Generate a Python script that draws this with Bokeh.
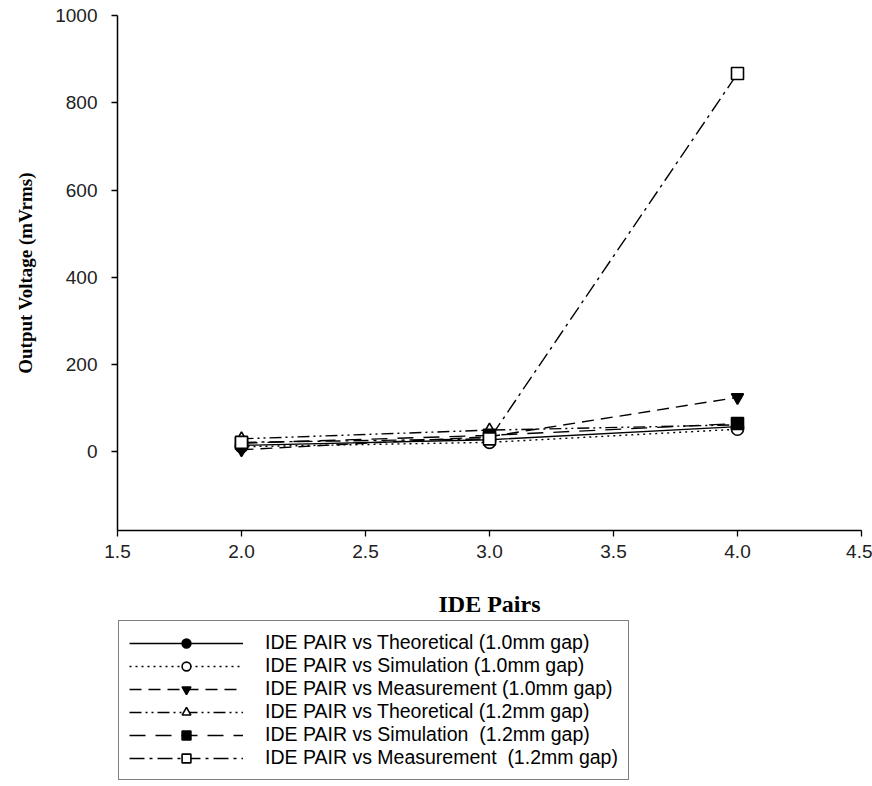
from bokeh.plotting import figure
from bokeh.layouts import column
from bokeh.models import Range1d, FixedTicker, Legend, LegendItem, NumeralTickFormatter
from bokeh.embed import file_html
from bokeh.resources import INLINE

ide_pairs = [2.0, 3.0, 4.0]
theo_10 = [15, 28, 58]
sim_10 = [12, 22, 52]
meas_10 = [5, 35, 125]
theo_12 = [30, 50, 62]
sim_12 = [20, 38, 65]
meas_12 = [22, 30, 867]

labels = [
    "IDE PAIR vs Theoretical (1.0mm gap)",
    "IDE PAIR vs Simulation (1.0mm gap)",
    "IDE PAIR vs Measurement (1.0mm gap)",
    "IDE PAIR vs Theoretical (1.2mm gap)",
    "IDE PAIR vs Simulation  (1.2mm gap)",
    "IDE PAIR vs Measurement  (1.2mm gap)",
]
x_ticks = [1.5, 2.0, 2.5, 3.0, 3.5, 4.0, 4.5]
y_ticks = [0, 200, 400, 600, 800, 1000]

series = [
    (theo_10, "solid", "circle", "black"),
    (sim_10, "2 4", "circle", "white"),
    (meas_10, "12 7", "inverted_triangle", "black"),
    (theo_12, "12 4 2 4 2 4", "triangle", "white"),
    (sim_12, "16 10", "square", "black"),
    (meas_12, "15 5 3 5", "square", "white"),
]

# main chart
p = figure(width=872, height=620, output_backend="svg", toolbar_location=None,
           x_range=Range1d(1.5, 4.5), y_range=Range1d(-180, 1000),
           min_border_left=117, min_border_right=11, min_border_top=15,
           min_border_bottom=90)
p.outline_line_color = None
p.xgrid.visible = False
p.ygrid.visible = False

for vals, dash, marker, fill in series:
    p.line(ide_pairs, vals, line_color="black", line_width=1.4, line_dash=dash)
    p.scatter(ide_pairs, vals, marker=marker, size=12, line_color="black",
              line_width=1.6, fill_color=fill)

for ax in (p.xaxis[0], p.yaxis[0]):
    ax.axis_line_color = "black"
    ax.axis_line_width = 1.5
    ax.major_tick_line_color = "black"
    ax.major_tick_line_width = 1.3
    ax.major_tick_in = 0
    ax.major_tick_out = 6
    ax.minor_tick_line_color = None
    ax.major_label_text_font = "Liberation Sans"
    ax.major_label_text_font_size = "19px"
    ax.major_label_text_color = "#222222"
    ax.axis_label_text_font = "Liberation Serif"
    ax.axis_label_text_font_style = "bold"
    ax.axis_label_text_color = "black"

p.xaxis.ticker = FixedTicker(ticks=x_ticks)
p.xaxis.formatter = NumeralTickFormatter(format="0.0")
p.xaxis.axis_label = "IDE Pairs"
p.xaxis.axis_label_text_font_size = "24px"
p.xaxis.major_label_standoff = 8
p.xaxis.axis_label_standoff = 30

p.yaxis.ticker = FixedTicker(ticks=y_ticks)
p.yaxis.axis_label = "Output Voltage (mVrms)"
p.yaxis.axis_label_text_font_size = "19px"
p.yaxis.major_label_standoff = 14
p.yaxis.axis_label_standoff = 16

# legend panel (same series, drawn outside its view so only the key shows)
lg = figure(width=872, height=166, output_backend="svg", toolbar_location=None,
            x_range=Range1d(100, 101), y_range=Range1d(5000, 5001),
            min_border_left=0, min_border_right=0, min_border_top=0,
            min_border_bottom=0)
lg.axis.visible = False
lg.xgrid.visible = False
lg.ygrid.visible = False
lg.outline_line_color = None

items = []
for (vals, dash, marker, fill), lab in zip(series, labels):
    ln = lg.line(ide_pairs, vals, line_color="black", line_width=1.4, line_dash=dash)
    sc = lg.scatter(ide_pairs, vals, marker=marker, size=12, line_color="black",
                    line_width=1.6, fill_color=fill)
    items.append(LegendItem(label=lab, renderers=[ln, sc]))

legend = Legend(items=items, location=(1, 6))
legend.margin = 0
legend.glyph_width = 114
legend.glyph_height = 22
legend.label_height = 22
legend.spacing = 0
legend.padding = 10
legend.label_standoff = 22
legend.label_text_font = "Liberation Sans"
legend.label_text_font_size = "19.5px"
legend.label_text_color = "black"
legend.border_line_color = "black"
legend.border_line_width = 1.2
legend.background_fill_alpha = 1.0
lg.add_layout(legend, "center")

layout = column(p, lg, spacing=0)
open("out.html", "w").write(file_html(layout, INLINE))
